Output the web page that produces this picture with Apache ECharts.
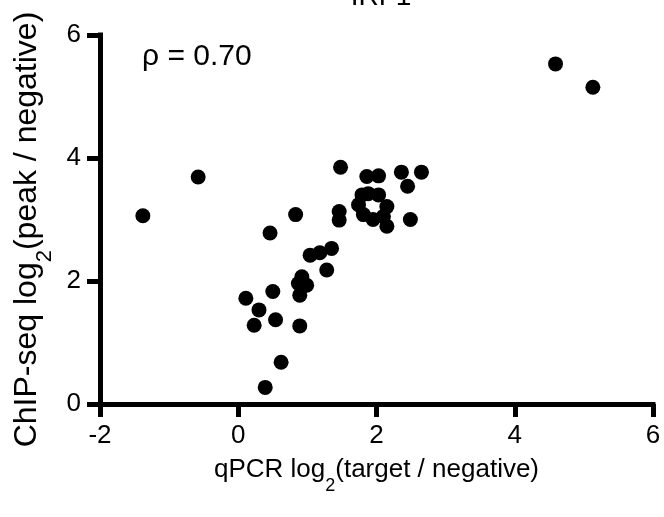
<!DOCTYPE html>
<html>
<head>
<meta charset="utf-8">
<script src="https://cdn.jsdelivr.net/npm/echarts@6/dist/echarts.min.js"></script>
<style>
  html, body { margin: 0; padding: 0; background: #fff; }
  #chart { width: 664px; height: 517px; }
</style>
</head>
<body>
<div id="chart"></div>
<script>
/* global echarts */
const qpcr = [
  -1.38, -0.58, 0.11, 0.23, 0.30, 0.39, 0.46, 0.50, 0.54, 0.62,
  0.83, 0.89, 0.89, 0.87, 0.92, 0.99, 1.04, 1.18, 1.35, 1.28,
  1.46, 1.46, 1.48, 1.74, 1.81, 1.79, 1.88, 1.86, 1.95, 2.03,
  2.03, 2.10, 2.15, 2.15, 2.36, 2.45, 2.49, 2.65, 4.59, 5.13
];
const chipseq = [
  3.06, 3.69, 1.72, 1.28, 1.53, 0.27, 2.78, 1.83, 1.37, 0.68,
  3.08, 1.27, 1.77, 1.96, 2.07, 1.93, 2.42, 2.46, 2.53, 2.18,
  3.13, 2.99, 3.85, 3.24, 3.08, 3.40, 3.42, 3.70, 3.00, 3.71,
  3.40, 3.05, 3.21, 2.89, 3.77, 3.54, 3.00, 3.77, 5.53, 5.15
];
const xTicks = [-2, 0, 2, 4, 6];
const yTicks = [0, 2, 4, 6];
const titleText = 'IRF1';
const rhoText = 'ρ = 0.70';

const font = '"Liberation Sans", Arial, sans-serif';
const points = qpcr.map((x, i) => [x, chipseq[i]]);

function make_axis(ticks, name, nameGap, nameSize, namePad) {
  return {
    type: 'value',
    min: ticks[0],
    max: ticks[ticks.length - 1],
    interval: ticks[1] - ticks[0],
    name: name,
    nameLocation: 'middle',
    nameGap: nameGap,
    nameTextStyle: {
      color: '#000', fontFamily: font, fontSize: nameSize, padding: namePad,
      rich: {
        sub: {
          fontSize: Math.round(nameSize * 0.68), verticalAlign: 'bottom',
          padding: [0, 0, -12, 0], color: '#000', fontFamily: font
        }
      }
    },
    axisLine: { onZero: false, lineStyle: { color: '#000', width: 5, cap: 'square' } },
    axisTick: { length: 13, lineStyle: { color: '#000', width: 5 } },
    axisLabel: { color: '#000', fontFamily: font, fontSize: 26, margin: 19 },
    splitLine: { show: false }
  };
}

const chart = echarts.init(document.getElementById('chart'));
chart.setOption({
  backgroundColor: '#fff',
  animation: false,
  title: {
    text: titleText,
    left: 376,
    textAlign: 'center',
    top: -22,
    textStyle: { color: '#000', fontFamily: font, fontSize: 28, fontWeight: 'normal' }
  },
  grid: { left: 100, right: 11, top: 35, bottom: 113 },
  xAxis: make_axis(xTicks, 'qPCR log{sub|2}(target / negative)', 53, 26, [0, 0, 0, 0]),
  yAxis: make_axis(yTicks, 'ChIP-seq log{sub|2}(peak / negative)', 55, 32, [0, 20, 0, 0]),
  graphic: [{
    type: 'text',
    left: 142,
    top: 42,
    style: { text: rhoText, fill: '#000', font: '30px ' + font }
  }],
  series: [{
    type: 'scatter',
    data: points,
    symbol: 'circle',
    symbolSize: 15,
    itemStyle: { color: '#000', opacity: 1 }
  }]
});
</script>
</body>
</html>
